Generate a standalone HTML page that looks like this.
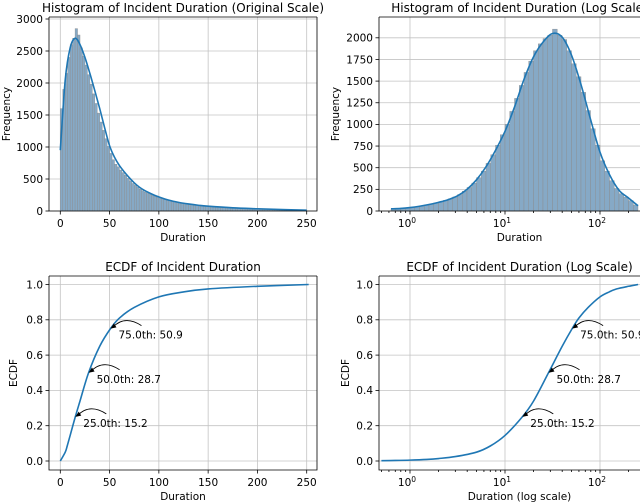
<!DOCTYPE html>
<html><head><meta charset="utf-8"><style>
html,body{margin:0;padding:0;background:#fff;width:640px;height:503px;overflow:hidden}
svg text{font-family:"DejaVu Sans","Liberation Sans",sans-serif;fill:#000}
</style></head><body>
<svg id="fig" width="640" height="503" viewBox="0 0 640 503" xmlns="http://www.w3.org/2000/svg"></svg>
<script>
// ---- data ----
const histOrigBinWidth = 2.5;
const histOrigCounts = [1600,1900,2150,2400,2600,2700,2850,2750,2550,2420,2280,2130,1980,1830,1680,1530,1390,1260,1130,1010,900,800,730,690,640,600,560,510,470,430,400,370,340,315,295,275,260,245,230,215,205,190,180,170,160,150,145,135,128,120,115,108,102,97,92,88,84,80,77,74,72,68,65,62,60,57,55,52,50,48,46,44,42,40,38,37,35,34,32,31,30,29,28,27,26,25,24,23,22,21,20,19,18,17,16,15,14,13,12,11];
const kdeOrigX = [0,5,10,15,20,25,30,35,40,45,50,55,60,65,70,75,80,85,90,95,100,110,120,130,140,150,175,200,225,250];
const kdeOrigY = [950,2050,2550,2700,2600,2400,2150,1880,1600,1300,1020,840,710,610,520,440,375,325,285,250,220,170,135,110,90,75,50,35,22,12];
const histLogStart = -0.2;
const histLogBinWidth = 0.05;
const histLogCounts = [25,28,32,37,43,50,58,68,80,93,107,122,140,162,190,228,272,322,385,460,550,650,760,880,1000,1150,1300,1450,1600,1730,1850,1930,1990,2030,2100,2030,1980,1850,1700,1550,1370,1160,950,760,580,460,350,260,200,160,120,70];
const kdeLogX = [-0.2,-0.1,0,0.1,0.2,0.3,0.4,0.5,0.6,0.7,0.8,0.9,1.0,1.1,1.2,1.3,1.4,1.5,1.6,1.7,1.8,1.9,2.0,2.1,2.2,2.3,2.4];
const kdeLogY = [25,30,40,55,75,100,130,175,250,360,510,700,920,1200,1520,1780,1950,2050,2010,1800,1460,1060,680,420,240,150,60];
const ecdfX = [0.5,0.7,1,1.5,2,3,5,7,10,15.2,20,28.7,40,50.9,60,75,100,125,150,200,252];
const ecdfY = [0.002,0.003,0.005,0.009,0.014,0.025,0.05,0.085,0.145,0.25,0.34,0.5,0.65,0.75,0.81,0.87,0.93,0.958,0.975,0.99,1.0];
const pctLabels = ["25.0th: 15.2","50.0th: 28.7","75.0th: 50.9"];
const pctX = [15.2,28.7,50.9];
const pctY = [0.25,0.5,0.75];
const origTicks = [0,50,100,150,200,250];
const freqTicksOrig = [0,500,1000,1500,2000,2500,3000];
const freqTicksLog = [0,250,500,750,1000,1250,1500,1750,2000];
const ecdfTicks = [0,0.2,0.4,0.6,0.8,1.0];
const logTicks = [0,1,2];

// ---- helpers ----
const NS="http://www.w3.org/2000/svg";
const svg=document.getElementById('fig');
function el(tag,attrs,parent){const e=document.createElementNS(NS,tag);for(const k in attrs)e.setAttribute(k,attrs[k]);(parent||svg).appendChild(e);return e;}
function txt(s,attrs,parent){const e=el('text',attrs,parent);e.textContent=s;return e;}
function smooth(pts){let d=`M${pts[0][0]},${pts[0][1]}`;for(let i=0;i<pts.length-1;i++){const p0=pts[Math.max(i-1,0)],p1=pts[i],p2=pts[i+1],p3=pts[Math.min(i+2,pts.length-1)];const c1=[p1[0]+(p2[0]-p0[0])/6,p1[1]+(p2[1]-p0[1])/6],c2=[p2[0]-(p3[0]-p1[0])/6,p2[1]-(p3[1]-p1[1])/6];d+=` C${c1[0]},${c1[1]} ${c2[0]},${c2[1]} ${p2[0]},${p2[1]}`;}return d;}

function makeAxes(name,L,T,R,B,xs,ys,xticks,xfmt,yticks,yfmt,title,xlabel,ylabel,ylabX,logx,showRight){
  const g=el('g',{});
  
  
  const clip=el('clipPath',{id:name+'-clip'},g);el('rect',{x:L,y:T,width:R-L,height:B-T},clip);
  const grid=el('g',{stroke:'#b0b0b0','stroke-width':0.8,opacity:0.75},g);
  
  xticks.forEach(v=>{const x=xs(v);el('line',{x1:x,x2:x,y1:T,y2:B},grid);});
  yticks.forEach(v=>{const y=ys(v);el('line',{x1:L,x2:R,y1:y,y2:y},grid);});
  const plot=el('g',{'clip-path':`url(#${name}-clip)`},g);
  const ax=el('g',{stroke:'#000','stroke-width':0.8},g);
  xticks.forEach(v=>{const x=xs(v);el('line',{x1:x,x2:x,y1:B,y2:B+3.5},ax);});
  if(logx){for(let d=-1;d<=2;d++)for(let m=2;m<=9;m++){const x=xs(d+Math.log10(m));if(x>L&&x<R)el('line',{x1:x,x2:x,y1:B,y2:B+2},ax);}}
  yticks.forEach(v=>{const y=ys(v);el('line',{x1:L-3.5,x2:L,y1:y,y2:y},ax);});
  const tl=el('g',{'font-size':'10.5px'},g);
  
  xticks.forEach(v=>{const x=xs(v);if(logx){const t=txt('10',{x:x-3,y:B+16,'text-anchor':'middle'},tl);const s=el('tspan',{dy:-4,'font-size':'7.5px'},t);s.textContent=String(v);}else txt(xfmt(v),{x:x,y:B+16,'text-anchor':'middle'},tl);});
  yticks.forEach(v=>{txt(yfmt(v),{x:L-6,y:ys(v)+3.8,'text-anchor':'end'},tl);});
  el('path',{d:`M${L},${T}V${B}H${R}`+(showRight?`V${T}`:'')+`M${L},${T}H${R}`,fill:'none',stroke:'#000','stroke-width':0.8},g);
  const t=txt(title,{x:(L+R)/2,y:T-5,'text-anchor':'middle','font-size':'12px'},g);
  
  const xl=txt(xlabel,{x:(L+R)/2,y:B+30,'text-anchor':'middle','font-size':'10.5px'},g);
  
  const yl=txt(ylabel,{x:ylabX,y:(T+B)/2,'text-anchor':'middle','font-size':'10.5px',transform:`rotate(-90 ${ylabX} ${(T+B)/2})`},g);
  
  return plot;
}

// ---- top-left: histogram original ----
{
  const L=49,T=17,R=317,B=211;
  const xs=v=>60.3+v*0.9856, ys=v=>211-v*0.064;
  const p=makeAxes('hist-original',L,T,R,B,xs,ys,origTicks,v=>String(v),freqTicksOrig,v=>String(v),'Histogram of Incident Duration (Original Scale)','Duration','Frequency',10,false,true);
  histOrigCounts.forEach((c,i)=>{const x0=xs(i*histOrigBinWidth),x1=xs((i+1)*histOrigBinWidth);const r=el('rect',{x:x0,y:ys(c),width:x1-x0,height:ys(0)-ys(c),fill:'#86a9c6',stroke:'#8c8c8c','stroke-width':0.4},p);
    
    });
  const k=el('path',{d:smooth(kdeOrigX.map((x,i)=>[xs(x),ys(kdeOrigY[i])])),fill:'none',stroke:'#1f77b4','stroke-width':1.6},p);
  
  
}
// ---- top-right: histogram log ----
{
  const L=379,T=17,R=660,B=211;
  const xs=v=>410+v*95, ys=v=>211-v*0.0866;
  const p=makeAxes('hist-log',L,T,R,B,xs,ys,logTicks,null,freqTicksLog,v=>String(v),'Histogram of Incident Duration (Log Scale)','Duration','Frequency',339,true,false);
  histLogCounts.forEach((c,i)=>{const x0=xs(histLogStart+i*histLogBinWidth),x1=xs(histLogStart+(i+1)*histLogBinWidth);const r=el('rect',{x:x0,y:ys(c),width:x1-x0,height:ys(0)-ys(c),fill:'#86a9c6',stroke:'#8c8c8c','stroke-width':0.4},p);
    
    });
  const k=el('path',{d:smooth(kdeLogX.map((x,i)=>[xs(x),ys(kdeLogY[i])])),fill:'none',stroke:'#1f77b4','stroke-width':1.6},p);
  
  
}
function annotate(p,tx,ty,label,name){
  const g=el('g',{},p);
  
  
  el('path',{d:`M${tx+31},${ty-3} Q${tx+14},${ty-14} ${tx+2},${ty-1}`,fill:'none',stroke:'#000','stroke-width':0.9},g);
  el('path',{d:`M${tx},${ty} l6,-1.2 l-2.6,-4 z`,fill:'#000'},g);
  txt(label,{x:tx+8,y:ty+10,'font-size':'10.5px'},g);
}
// ---- bottom-left: ECDF ----
{
  const L=49,T=276,R=317,B=470;
  const xs=v=>60.3+v*0.9856, ys=v=>461-v*176.5;
  const p=makeAxes('ecdf-original',L,T,R,B,xs,ys,origTicks,v=>String(v),ecdfTicks,v=>v.toFixed(1),'ECDF of Incident Duration','Duration','ECDF',17,false,true);
  const pts=[[xs(0),ys(0)]].concat(ecdfX.filter(x=>x>=5).map((x,i)=>[xs(x),ys(ecdfY[ecdfX.indexOf(x)])]));
  const c=el('path',{d:smooth(pts),fill:'none',stroke:'#1f77b4','stroke-width':1.6},p);
  
  
  pctX.forEach((x,i)=>annotate(svg,xs(x),ys(pctY[i]),pctLabels[i],'annotation-original-'+i));
}
// ---- bottom-right: ECDF log ----
{
  const L=379,T=276,R=660,B=470;
  const xs=v=>410+v*95, ys=v=>461-v*176.5;
  const p=makeAxes('ecdf-log',L,T,R,B,xs,ys,logTicks,null,ecdfTicks,v=>v.toFixed(1),'ECDF of Incident Duration (Log Scale)','Duration (log scale)','ECDF',349,true,false);
  const c=el('path',{d:smooth(ecdfX.map((x,i)=>[xs(Math.log10(x)),ys(ecdfY[i])])),fill:'none',stroke:'#1f77b4','stroke-width':1.6},p);
  
  
  pctX.forEach((x,i)=>annotate(svg,xs(Math.log10(x)),ys(pctY[i]),pctLabels[i],'annotation-log-'+i));
}
</script>
</body></html>
